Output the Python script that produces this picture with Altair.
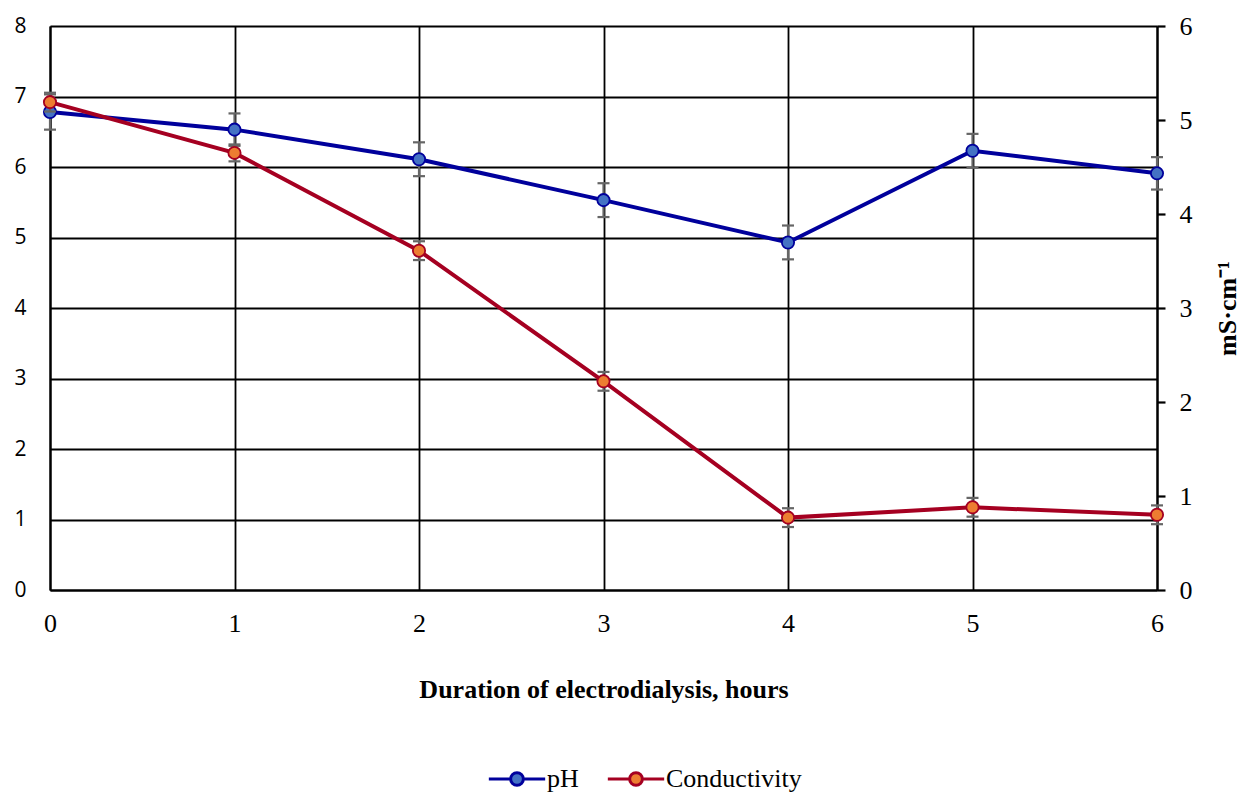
import altair as alt
import pandas as pd

# ---- data ----
hours = [0, 1, 2, 3, 4, 5, 6]
ph = [6.78, 6.53, 6.11, 5.53, 4.93, 6.23, 5.91]
ph_err = [0.25, 0.23, 0.24, 0.24, 0.24, 0.24, 0.23]
conductivity = [5.19, 4.65, 3.61, 2.22, 0.77, 0.88, 0.80]
cond_err = [0.10, 0.09, 0.10, 0.10, 0.10, 0.10, 0.10]
series_names = ["pH", "Conductivity"]
x_ticks = [0, 1, 2, 3, 4, 5, 6]
ph_ticks = [0, 1, 2, 3, 4, 5, 6, 7, 8]
cond_ticks = [0, 1, 2, 3, 4, 5, 6]

line_colors = ["#00009C", "#A50021"]
fill_colors = ["#4472C4", "#ED7D31"]
err_color = "#666666"

SERIF = "Liberation Serif"
SANS = "Open Sans"

ph_df = pd.DataFrame({"hour": hours, "v": ph, "e": ph_err})
cond_df = pd.DataFrame({"hour": hours, "v": conductivity, "e": cond_err})

x_enc = alt.X(
    "hour:Q",
    scale=alt.Scale(domain=[0, 6], nice=False, zero=False),
    axis=alt.Axis(
        values=x_ticks, grid=True, gridColor="black", gridWidth=1.8, gridOpacity=1,
        tickSize=0, labelPadding=20, labelFont=SERIF, labelFontSize=26, labelColor="black",
        labelFlush=False, domainColor="black", domainWidth=2.2,
        title="Duration of electrodialysis, hours", titleFont=SERIF, titleFontSize=26,
        titleFontWeight="bold", titleColor="black", titlePadding=40,
    ),
)

stroke_scale = alt.Scale(domain=series_names, range=line_colors)
fill_scale = alt.Scale(domain=series_names, range=fill_colors)

legend_path = ("M-4.2,0H-0.95M0.95,0H4.2"
               "M-0.95,0A0.95,0.95 0 1,1 0.95,0A0.95,0.95 0 1,1 -0.95,0Z")
legend = alt.Legend(
    title=None, orient="none", direction="horizontal", legendX=454, legendY=740,
    symbolType=legend_path, symbolSize=180, symbolStrokeWidth=3,
    labelFont=SERIF, labelFontSize=26, labelColor="black", labelOffset=17,
    columnPadding=22,
)


def series_layer(df, name, domain, axis):
    base = alt.Chart(df).transform_calculate(
        series=f"'{name}'",
        lo="datum.v - datum.e",
        hi="datum.v + datum.e",
    )
    sc = alt.Scale(domain=domain, nice=False, zero=True)
    line = base.mark_line(strokeWidth=4).encode(
        x=x_enc,
        y=alt.Y("v:Q", scale=sc, axis=axis),
        stroke=alt.Stroke("series:N", scale=stroke_scale, legend=legend),
    )
    rule = base.mark_rule(color=err_color, strokeWidth=2.2).encode(
        x=x_enc, y=alt.Y("lo:Q", scale=sc, axis=axis), y2="hi:Q"
    )
    caps = base.transform_fold(["lo", "hi"], as_=["end", "val"]).mark_tick(
        orient="horizontal", size=12, thickness=2.2, color=err_color, opacity=1
    ).encode(x=x_enc, y=alt.Y("val:Q", scale=sc, axis=axis))
    pts = base.mark_point(filled=True, size=150, strokeWidth=1.8, opacity=1, shape="circle").encode(
        x=x_enc,
        y=alt.Y("v:Q", scale=sc, axis=axis),
        stroke=alt.Stroke("series:N", scale=stroke_scale, legend=legend),
        fill=alt.Fill("series:N", scale=fill_scale, legend=legend),
    )
    return alt.layer(line, rule, caps, pts)


ph_axis = alt.Axis(
    orient="left", values=ph_ticks, grid=True, gridColor="black", gridWidth=1.8, gridOpacity=1,
    tickSize=0, labelPadding=24, labelFont=SANS, labelFontSize=21, labelColor="black",
    labelFlush=False, domainColor="black", domainWidth=2.2, title=None,
)
cond_axis = alt.Axis(
    orient="right", values=cond_ticks, grid=False, tickSize=8, tickColor="black", tickWidth=2.2,
    labelPadding=14, labelFont=SERIF, labelFontSize=26, labelColor="black", labelFlush=False,
    domainColor="black", domainWidth=2.2,
    title="mS·cm⁻¹", titleFont=SERIF, titleFontSize=26, titleFontWeight="bold",
    titleColor="black", titleAngle=270, titlePadding=48,
)

ph_layer = series_layer(ph_df, "pH", [0, 8], ph_axis)
cond_layer = series_layer(cond_df, "Conductivity", [0, 6], cond_axis)

chart = (
    alt.layer(ph_layer, cond_layer)
    .resolve_scale(y="independent")
    .properties(
        width=1107, height=564, background="white",
        padding={"left": 5, "top": 5, "right": 0, "bottom": 0},
    )
    .configure_view(stroke=None)
)

chart.save("out.html", embed_options={"renderer": "svg", "actions": False})
